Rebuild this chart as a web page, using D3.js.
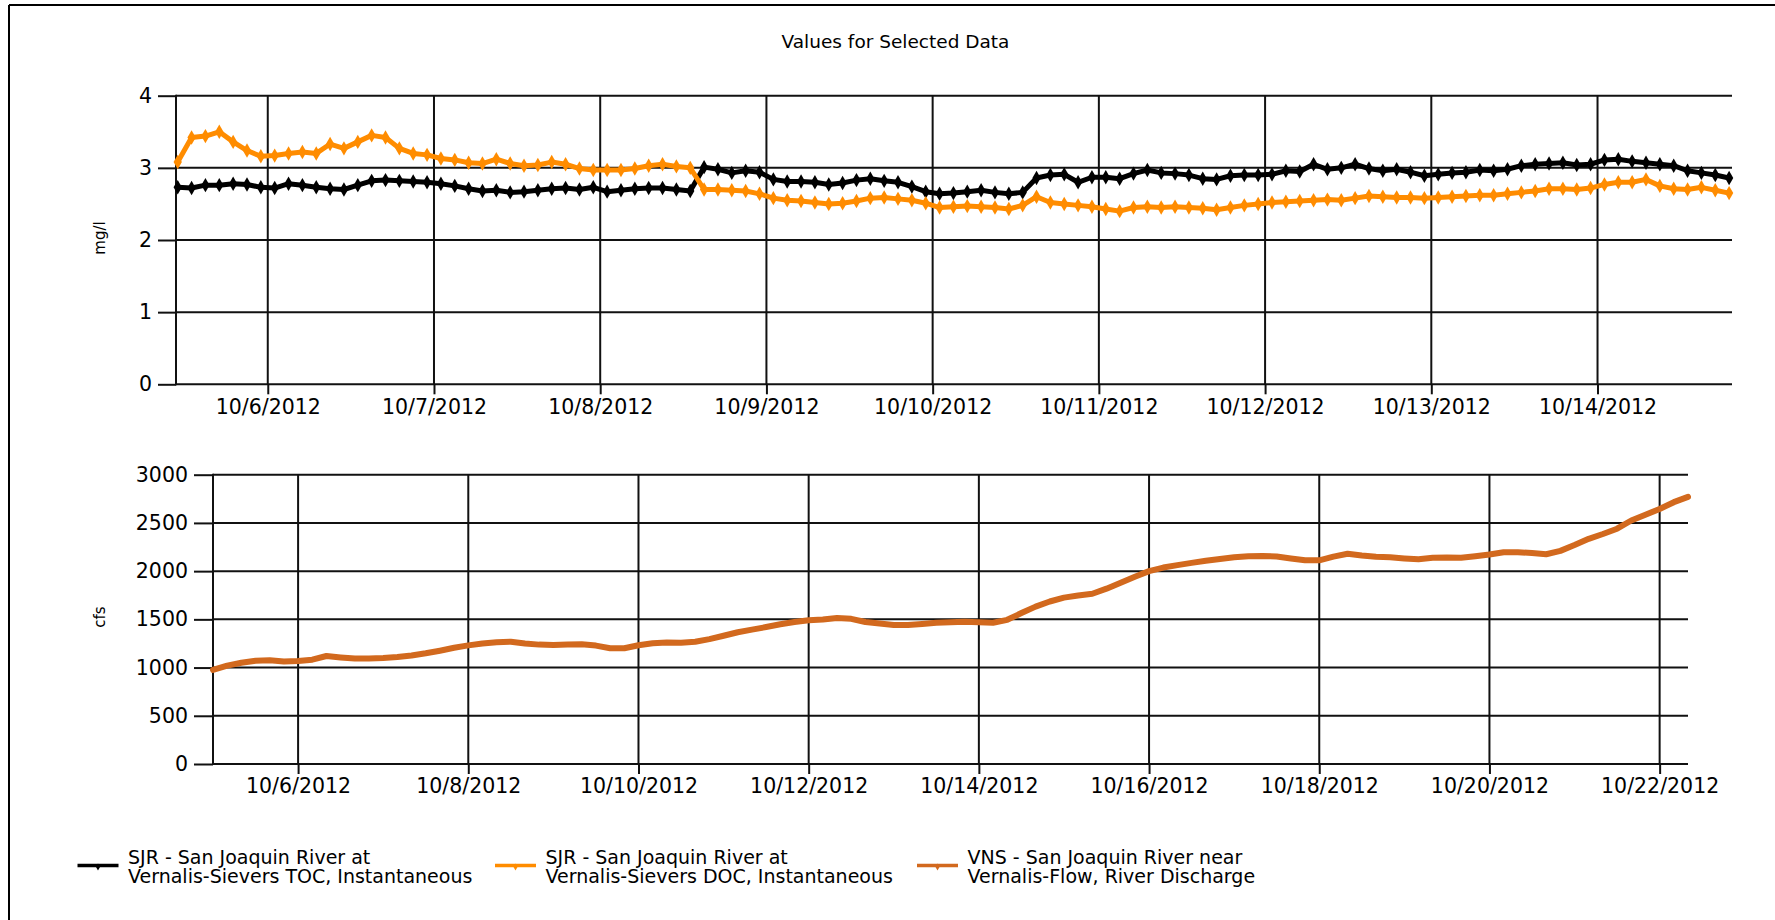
<!DOCTYPE html>
<html>
<head>
<meta charset="utf-8">
<script src="https://cdn.jsdelivr.net/npm/d3@7"></script>
<style>
  html, body { margin: 0; padding: 0; background: #fff; }
  svg { display: block; }
  text { font-family: "DejaVu Sans", sans-serif; fill: #000; }
</style>
</head>
<body>
<svg id="chart" width="1775" height="920"></svg>
<script>
// ---------------- DATA ----------------
const chartTitle = "Values for Selected Data";

// Top panel: TOC and DOC (mg/l), 2-hour samples starting 10/5/2012 11:00
const wqStart = "2012-10-05T11:00";
const wqStepHours = 2;
const tocValues = [
  2.73, 2.72, 2.76, 2.76, 2.78, 2.77, 2.73, 2.72, 2.78, 2.76,
  2.73, 2.71, 2.70, 2.76, 2.82, 2.83, 2.82, 2.81, 2.80, 2.78,
  2.75, 2.71, 2.68, 2.69, 2.66, 2.67, 2.69, 2.71, 2.72, 2.70,
  2.73, 2.67, 2.69, 2.71, 2.72, 2.72, 2.70, 2.68, 3.01, 2.98,
  2.93, 2.96, 2.94, 2.84, 2.81, 2.81, 2.80, 2.77, 2.79, 2.83,
  2.85, 2.82, 2.80, 2.74, 2.67, 2.64, 2.65, 2.67, 2.69, 2.66,
  2.64, 2.66, 2.86, 2.90, 2.91, 2.80, 2.87, 2.87, 2.85, 2.92,
  2.97, 2.93, 2.92, 2.90, 2.85, 2.84, 2.89, 2.90, 2.90, 2.91,
  2.96, 2.95, 3.05, 2.98, 3.00, 3.05, 2.99, 2.96, 2.98, 2.94,
  2.89, 2.91, 2.93, 2.94, 2.97, 2.96, 2.98, 3.03, 3.05, 3.06,
  3.07, 3.04, 3.05, 3.11, 3.12, 3.09, 3.07, 3.05, 3.03, 2.96,
  2.93, 2.90, 2.86
];
const docValues = [
  3.08, 3.42, 3.44, 3.50, 3.36, 3.24, 3.16, 3.17, 3.20, 3.22,
  3.20, 3.33, 3.27, 3.36, 3.45, 3.42, 3.27, 3.20, 3.18, 3.13,
  3.11, 3.07, 3.06, 3.12, 3.06, 3.03, 3.04, 3.08, 3.05, 2.99,
  2.97, 2.97, 2.97, 2.99, 3.03, 3.05, 3.02, 3.00, 2.70, 2.70,
  2.69, 2.68, 2.64, 2.58, 2.55, 2.54, 2.52, 2.50, 2.51, 2.54,
  2.58, 2.59, 2.57, 2.55, 2.51, 2.45, 2.46, 2.47, 2.46, 2.45,
  2.43, 2.48, 2.60, 2.52, 2.50, 2.48, 2.46, 2.43, 2.40, 2.45,
  2.46, 2.45, 2.46, 2.45, 2.44, 2.42, 2.45, 2.48, 2.50, 2.52,
  2.53, 2.54, 2.55, 2.56, 2.55, 2.58, 2.61, 2.60, 2.59, 2.59,
  2.58, 2.59, 2.60, 2.61, 2.62, 2.62, 2.64, 2.66, 2.68, 2.71,
  2.71, 2.70, 2.72, 2.77, 2.80, 2.80, 2.84, 2.75, 2.71, 2.70,
  2.73, 2.69, 2.65
];

// Bottom panel: river discharge (cfs), 4-hour samples starting 10/5/2012 00:00
const flowStart = "2012-10-05T00:00";
const flowStepHours = 4;
const flowValues = [
  975, 1020, 1050, 1070, 1075, 1062, 1068, 1082, 1120, 1105,
  1093, 1095, 1100, 1110, 1125, 1148, 1175, 1205, 1230, 1250,
  1262, 1268, 1250, 1238, 1234, 1240, 1242, 1228, 1200, 1200,
  1232, 1252, 1261, 1258, 1268, 1295, 1330, 1366, 1393, 1420,
  1449, 1472, 1490, 1498, 1515, 1505, 1472, 1458, 1442, 1441,
  1452, 1465, 1470, 1475, 1470, 1465, 1495, 1565, 1632, 1685,
  1725, 1748, 1765, 1818, 1880, 1942, 2000, 2037, 2062, 2086,
  2108, 2126, 2143, 2155, 2158, 2152, 2132, 2112, 2112, 2150,
  2180, 2162, 2148, 2143, 2132, 2124, 2138, 2141, 2139, 2155,
  2172, 2196, 2196, 2188, 2175, 2210, 2270, 2335, 2385, 2440,
  2525, 2585, 2645, 2715, 2770
];

// Axis ranges and ticks
const topXDomain = ["2012-10-05T10:45", "2012-10-14T19:25"];
const topXTickLabels = ["10/6/2012","10/7/2012","10/8/2012","10/9/2012","10/10/2012",
                        "10/11/2012","10/12/2012","10/13/2012","10/14/2012"];
const topYTicks = [0, 1, 2, 3, 4];
const topYLabel = "mg/l";

const botXDomain = ["2012-10-05T00:00", "2012-10-22T08:00"];
const botXTickLabels = ["10/6/2012","10/8/2012","10/10/2012","10/12/2012","10/14/2012",
                        "10/16/2012","10/18/2012","10/20/2012","10/22/2012"];
const botYTicks = [0, 500, 1000, 1500, 2000, 2500, 3000];
const botYLabel = "cfs";

const seriesNames = [
  ["SJR - San Joaquin River at", "Vernalis-Sievers TOC, Instantaneous"],
  ["SJR - San Joaquin River at", "Vernalis-Sievers DOC, Instantaneous"],
  ["VNS - San Joaquin River near", "Vernalis-Flow, River Discharge"]
];
const seriesColors = ["#000000", "#FF8C00", "#D2691E"];

// ---------------- DRAWING ----------------
const parseT = d3.timeParse("%Y-%m-%dT%H:%M");
const parseD = d3.timeParse("%m/%d/%Y");
const fmt = d3.timeFormat("%-m/%-d/%Y");

function toSeries(start, step, values) {
  const t0 = parseT(start);
  return values.map((v, i) => ({ t: d3.timeHour.offset(t0, i * step), v }));
}
const tocData = toSeries(wqStart, wqStepHours, tocValues);
const docData = toSeries(wqStart, wqStepHours, docValues);
const flowData = toSeries(flowStart, flowStepHours, flowValues);

const svg = d3.select("#chart");
svg.append("rect").attr("width", 1775).attr("height", 920).attr("fill", "#fff");

// outer frame (top and left edges)
svg.append("line").attr("x1", 9).attr("y1", 5).attr("x2", 1775).attr("y2", 5)
  .attr("stroke", "#000").attr("stroke-width", 2);
svg.append("line").attr("x1", 9).attr("y1", 5).attr("x2", 9).attr("y2", 920)
  .attr("stroke", "#000").attr("stroke-width", 2);

svg.append("text").attr("x", 895.5).attr("y", 48).attr("text-anchor", "middle")
  .attr("font-size", 18.5).text(chartTitle);

const gridColor = "#111";
const gridW = 2;

function panel(cfg) {
  const x = d3.scaleTime().domain(cfg.xDomain.map(parseT)).range([cfg.left, cfg.right]);
  const y = d3.scaleLinear().domain([cfg.yTicks[0], cfg.yTicks[cfg.yTicks.length - 1]])
    .range([cfg.bottom, cfg.top]);
  const xTicks = cfg.xTickLabels.map(parseD);
  const g = svg.append("g");

  g.append("g").selectAll("line").data(cfg.yTicks).join("line")
    .attr("x1", cfg.left).attr("x2", cfg.right)
    .attr("y1", d => y(d)).attr("y2", d => y(d))
    .attr("stroke", gridColor).attr("stroke-width", gridW);
  g.append("g").selectAll("line").data(xTicks).join("line")
    .attr("x1", d => x(d)).attr("x2", d => x(d))
    .attr("y1", cfg.top).attr("y2", cfg.bottom)
    .attr("stroke", gridColor).attr("stroke-width", gridW);
  g.append("line").attr("x1", cfg.left).attr("x2", cfg.left)
    .attr("y1", cfg.top - 1).attr("y2", cfg.bottom + 1)
    .attr("stroke", gridColor).attr("stroke-width", gridW);

  const ya = g.append("g").attr("transform", `translate(${cfg.left},0)`)
    .call(d3.axisLeft(y).tickValues(cfg.yTicks).tickSize(cfg.yTickSize)
      .tickPadding(6).tickFormat(d3.format("d")));
  ya.select(".domain").remove();
  ya.selectAll(".tick line").attr("stroke", gridColor).attr("stroke-width", gridW);
  ya.selectAll(".tick text").attr("font-size", 20.5).attr("font-family", "DejaVu Sans")
    .attr("fill", "#000");

  const xa = g.append("g").attr("transform", `translate(0,${cfg.bottom})`)
    .call(d3.axisBottom(x).tickValues(xTicks).tickSize(10)
      .tickPadding(cfg.xPad).tickFormat(fmt));
  xa.select(".domain").remove();
  xa.selectAll(".tick line").attr("stroke", gridColor).attr("stroke-width", gridW);
  xa.selectAll(".tick text").attr("font-size", 20.5).attr("font-family", "DejaVu Sans")
    .attr("fill", "#000");

  g.append("text").attr("transform", `translate(${cfg.ylx},${cfg.yly}) rotate(-90)`)
    .attr("text-anchor", "middle").attr("font-size", 15).text(cfg.yLabel);

  return { x, y, g };
}

const topPanel = panel({
  left: 176, right: 1732, top: 95.7, bottom: 384.3,
  xDomain: topXDomain, xTickLabels: topXTickLabels, yTicks: topYTicks,
  yTickSize: 18, xPad: 5.2, yLabel: topYLabel, ylx: 105, yly: 238
});
const botPanel = panel({
  left: 213, right: 1688, top: 474.7, bottom: 764,
  xDomain: botXDomain, xTickLabels: botXTickLabels, yTicks: botYTicks,
  yTickSize: 19, xPad: 4.5, yLabel: botYLabel, ylx: 105, yly: 617
});

function drawSeries(p, data, color, lineW, markerSize) {
  const line = d3.line().x(d => p.x(d.t)).y(d => p.y(d.v));
  p.g.append("path").datum(data).attr("d", line)
    .attr("fill", "none").attr("stroke", color).attr("stroke-width", lineW)
    .attr("stroke-linejoin", "round").attr("stroke-linecap", "round");
  if (markerSize > 0) {
    const sym = d3.symbol(d3.symbolDiamond, markerSize);
    p.g.append("g").selectAll("path").data(data).join("path")
      .attr("d", sym)
      .attr("transform", d => `translate(${p.x(d.t)},${p.y(d.v)})`)
      .attr("fill", color);
  }
}
drawSeries(topPanel, tocData, seriesColors[0], 5, 60);
drawSeries(topPanel, docData, seriesColors[1], 5, 60);
drawSeries(botPanel, flowData, seriesColors[2], 6, 0);

const legendX = [77.5, 495, 917];
const lg = svg.append("g");
seriesNames.forEach((lines, i) => {
  const x0 = legendX[i];
  lg.append("line").attr("x1", x0).attr("x2", x0 + 41).attr("y1", 865.5).attr("y2", 865.5)
    .attr("stroke", seriesColors[i]).attr("stroke-width", 3.5);
  lg.append("path").attr("d", d3.symbol(d3.symbolDiamond, 14)())
    .attr("transform", `translate(${x0 + 20.5},867)`).attr("fill", seriesColors[i]);
  lines.forEach((s, j) => {
    lg.append("text").attr("x", x0 + 50.5).attr("y", 863.5 + j * 19)
      .attr("font-size", 19).text(s);
  });
});
</script>
</body>
</html>
